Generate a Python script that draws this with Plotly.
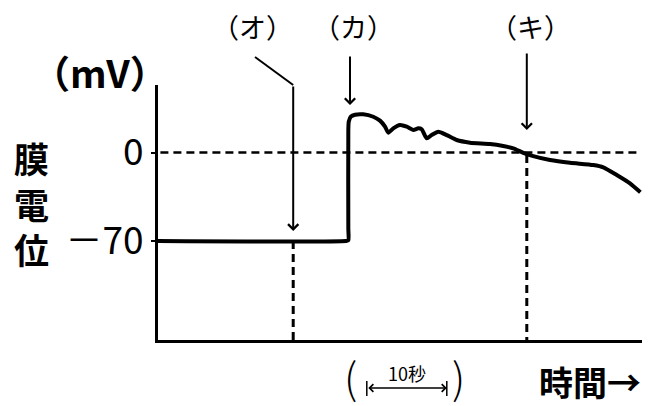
import plotly.graph_objects as go

# 膜電位の記録（時間: 秒, 電位: mV）
time_s = [0, 23.5, 23.79, 23.79, 23.79, 23.85, 24.1, 24.63, 25.66, 26.91, 27.75, 28.38, 28.79,
          29.41, 30.25, 31.09, 31.91, 32.54, 32.96, 33.59, 34.21, 35.04, 36.09, 37.34,
          39.0, 41.5, 43.16, 44.41, 45.66, 46.91, 49.0, 51.5, 54.41, 55.66, 57.34,
          59.0, 60.3]
potential_mv = [-70, -70, -69.5, -60, 18, 24.5, 28.3, 29.9, 30.2, 28.3, 25.2, 20.4, 15.7,
                19.1, 21.8, 20.4, 17.8, 19.1, 18.4, 11.2, 13.8, 16.5, 13.8, 9.9,
                7.8, 6.7, 5.1, 3.3, -0.2, -2.8, -5.9, -8.1, -9.9, -11.7, -17.8,
                -24.4, -31.5]

y_ticks = [0, -70]
y_tick_text = ["0", "－70"]

# 矢印の位置 (時刻, 先端の電位)
mark_labels = ["（オ）", "（カ）", "（キ）"]
mark_times = [16.9, 24.0, 46.1]
mark_tips = [-62, 37.6, 17.8]

scale_start = 26.1
scale_len = 10

FONT = "Noto Sans CJK JP"
x_rng = [0, 60.5]
y_rng = [-148.3, 53.4]


def px(x):
    return (x - 158) / 484


def py(y):
    return (340 - y) / 255


def label(x, y, text, size, weight="normal", xref="paper"):
    fig.add_annotation(x=x, y=y, xref=xref, yref="paper", text=text, showarrow=False,
                       xanchor="center", yanchor="middle",
                       font=dict(family=FONT, size=size, color="black", weight=weight))


fig = go.Figure()
fig.add_trace(go.Scatter(x=time_s, y=potential_mv, mode="lines",
                         line=dict(color="black", width=4, shape="spline", smoothing=0.6),
                         cliponaxis=False, hoverinfo="skip"))

# 点線
fig.add_shape(type="line", x0=0.3, x1=60.2, y0=0, y1=0,
              line=dict(color="black", width=2.5, dash="8px,5px"))
fig.add_shape(type="line", x0=mark_times[0], x1=mark_times[0], y0=-70, y1=y_rng[0],
              line=dict(color="black", width=3, dash="8px,5px"))
fig.add_shape(type="line", x0=mark_times[2], x1=mark_times[2], y0=-2, y1=y_rng[0],
              line=dict(color="black", width=3, dash="8px,5px"))

# 矢印
tails = [-146, -50, -78]
for t, tip, ay in zip(mark_times, mark_tips, tails):
    fig.add_annotation(x=t, y=tip, text="", showarrow=True, ax=0, ay=ay,
                       arrowhead=4, arrowsize=1, arrowwidth=2, arrowcolor="black")
# （オ）の折れ線部分
fig.add_shape(type="line", xref="paper", yref="paper",
              x0=px(255), y0=py(57), x1=(mark_times[0] * 8) / 484, y1=1.0,
              line=dict(color="black", width=2))

for lab, lx in zip(mark_labels, [252, 353, 530]):
    label(px(lx), py(27), lab, 27)

# 軸ラベル
label(px(100), py(72), "（mV）", 38, "bold")
label(px(32), py(203), "膜<br>電<br>位", 35, "bold")
label(px(590), py(381), "時間→", 34, "bold")

# 10秒のスケール
label(px(350), py(375), "(", 42, 300)
label(px(458), py(375), ")", 42, 300)
fig.add_annotation(x=scale_start + scale_len, y=py(388), xref="x", yref="paper",
                   ax=scale_start, ay=0, axref="x", ayref="pixel",
                   text="", showarrow=True, arrowside="end+start",
                   arrowhead=4, arrowsize=1, arrowwidth=1.5, arrowcolor="black")
for xc in [scale_start, scale_start + scale_len]:
    fig.add_shape(type="line", xref="x", yref="paper", x0=xc, x1=xc,
                  y0=py(381), y1=py(396),
                  line=dict(color="black", width=1.5))
label(scale_start + scale_len / 2, py(373), f"{scale_len}秒", 18, xref="x")

fig.update_xaxes(range=x_rng, showgrid=False, zeroline=False, showticklabels=False,
                 showline=True, linecolor="black", linewidth=3, automargin=False)
fig.update_yaxes(range=y_rng, showgrid=False, zeroline=False,
                 tickvals=y_ticks, ticktext=y_tick_text, ticks="outside", ticklen=4,
                 tickwidth=2, tickcolor="black",
                 tickfont=dict(family=FONT, size=37, color="black"),
                 showline=True, linecolor="black", linewidth=3, automargin=False)

# ページ本体の余白 8px を差し引いた余白
fig.update_layout(width=653, height=406, margin=dict(l=150, r=19, t=77, b=74, autoexpand=False),
                  paper_bgcolor="white", plot_bgcolor="white", showlegend=False)

fig.write_html("out.html")
